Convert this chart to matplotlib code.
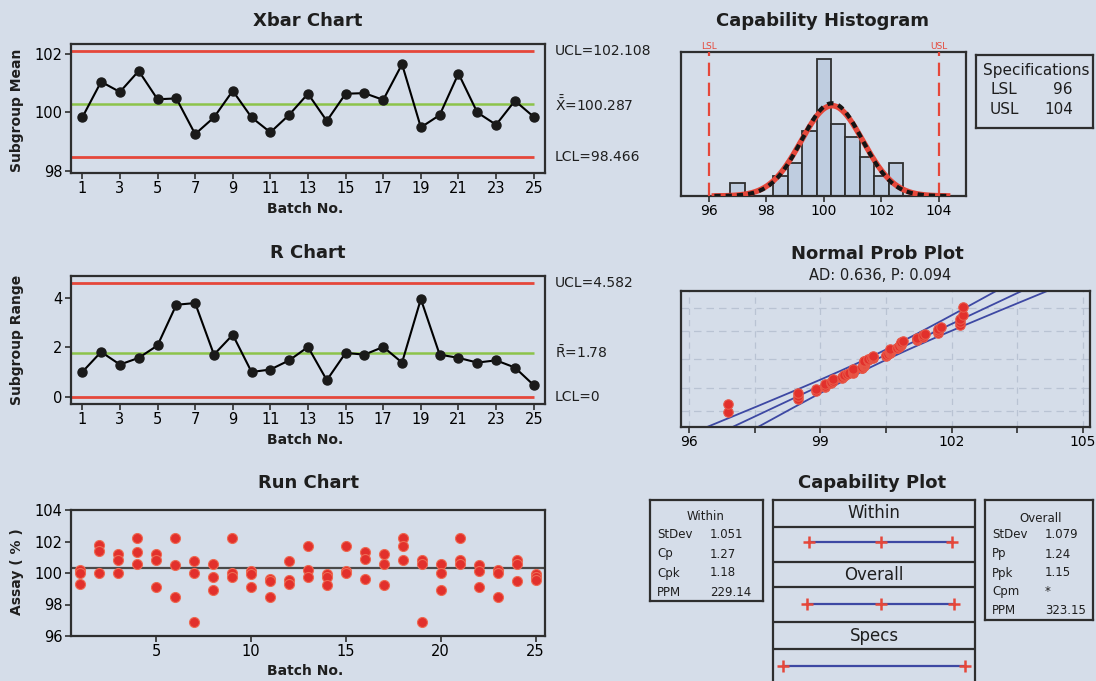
import numpy as np
import matplotlib.pyplot as plt
from statistics import NormalDist

# ---- data read from the sixpack ----
batches = np.arange(1, 26)
xbar_vals = [99.83, 101.05, 100.70, 101.42, 100.45, 100.48, 99.26, 99.83, 100.74, 99.83,
             99.32, 99.92, 100.64, 99.71, 100.64, 100.66, 100.43, 101.65, 99.49, 99.91,
             101.33, 100.00, 99.58, 100.40, 99.85]
range_vals = [1.00, 1.81, 1.30, 1.57, 2.07, 3.71, 3.78, 1.70, 2.50, 1.00,
              1.10, 1.47, 2.01, 0.67, 1.77, 1.70, 2.01, 1.38, 3.94, 1.70,
              1.57, 1.38, 1.47, 1.18, 0.47]
assay = [
    [100.2, 100.0, 99.3], [101.75, 101.4, 100.0], [101.2, 100.85, 100.0],
    [102.2, 101.35, 100.6], [101.2, 100.85, 99.1], [102.2, 100.5, 98.5],
    [100.75, 100.0, 96.9], [100.6, 99.75, 98.9], [102.2, 100.0, 99.75],
    [100.15, 99.95, 99.1], [99.65, 99.5, 98.5], [100.75, 99.55, 99.3],
    [101.7, 100.2, 99.75], [99.95, 99.75, 99.25], [101.7, 100.1, 100.0],
    [101.35, 100.9, 99.6], [101.2, 100.6, 99.25], [102.25, 101.7, 100.85],
    [100.8, 100.55, 96.9], [100.6, 100.0, 98.9], [102.25, 100.85, 100.6],
    [100.5, 100.1, 99.1], [100.2, 100.0, 98.5], [100.8, 100.6, 99.5],
    [99.95, 99.75, 99.55],
]
hist_centers = [97.0, 97.5, 98.0, 98.5, 99.0, 99.5, 100.0, 100.5, 101.0, 101.5, 102.0, 102.5]
hist_counts = [2, 0, 0, 3, 5, 10, 21, 11, 9, 6, 3, 5]

xbar_ucl, xbar_cl, xbar_lcl = 102.108, 100.287, 98.466
r_ucl, r_cl, r_lcl = 4.582, 1.78, 0.0
lsl, usl = 96, 104
mean_all = 100.287
sd_within, sd_overall = 1.051, 1.079
within_stats = [("StDev", "1.051"), ("Cp", "1.27"), ("Cpk", "1.18"), ("PPM", "229.14")]
overall_stats = [("StDev", "1.079"), ("Pp", "1.24"), ("Ppk", "1.15"), ("Cpm", "*"), ("PPM", "323.15")]

# ---- style ----
BG = '#d5dde9'
RED = '#e5473a'
GREEN = '#8cc34a'
DOT = '#e2302c'
BLUE = '#3d48a3'
EDGE = '#2e2e2e'
NARROW = ['DejaVu Sans Condensed', 'Liberation Sans Narrow', 'DejaVu Sans']

W, H = 1096, 681
fig = plt.figure(figsize=(W / 100, H / 100), dpi=100, facecolor=BG)
plt.rcParams['mathtext.fontset'] = 'dejavusans'


def px_axes(l, t, r, b):
    ax = fig.add_axes([l / W, 1 - b / H, (r - l) / W, (b - t) / H])
    ax.set_facecolor(BG)
    for s in ax.spines.values():
        s.set_color(EDGE)
        s.set_linewidth(1.6)
    ax.tick_params(direction='out', length=4, width=1.2, color=EDGE, labelsize=10, pad=2)
    return ax


def ftext(x, y, s, **kw):
    fig.text(x / W, 1 - y / H, s, ha=kw.pop('ha', 'center'), va=kw.pop('va', 'center'),
             color=kw.pop('color', '#1e1e1e'), **kw)


def control_chart(ax, vals, ucl, cl, lcl, labels):
    ax.hlines([ucl, lcl], 0.4, 25, color=RED, lw=2)
    ax.hlines(cl, 0.4, 25, color=GREEN, lw=1.8)
    ax.plot(batches, vals, color='black', lw=1.5, marker='o', ms=6.5, mfc='#1a1a1a', mec='#1a1a1a')
    ax.set_xlim(0.4, 25.6)
    ax.set_xticks(batches[::2])
    for lab in ax.get_xticklabels() + ax.get_yticklabels():
        lab.set_family(NARROW)
        lab.set_fontsize(10.5)
    for val, s in zip([ucl, cl, lcl], labels):
        ax.text(1.021, val, s, transform=ax.get_yaxis_transform(), ha='left', va='center',
                fontsize=10, color='#1e1e1e')


# Xbar chart
ax1 = px_axes(71, 44, 545, 173)
ax1.set_ylim(97.93, 102.34)
ax1.set_yticks([98, 100, 102])
control_chart(ax1, xbar_vals, xbar_ucl, xbar_cl, xbar_lcl,
              ['UCL=102.108', r'$\bar{\bar{\mathrm{X}}}$=100.287', 'LCL=98.466'])
ftext(308, 21, 'Xbar Chart', fontsize=13, fontweight='bold')
ftext(305, 209, 'Batch No.', fontsize=10, fontweight='bold')
ftext(17, 110, 'Subgroup Mean', fontsize=10, fontweight='bold', rotation=90)

# R chart
ax2 = px_axes(71, 276, 545, 404)
ax2.set_ylim(-0.29, 4.87)
ax2.set_yticks([0, 2, 4])
control_chart(ax2, range_vals, r_ucl, r_cl, r_lcl,
              ['UCL=4.582', r'$\bar{\mathrm{R}}$=1.78', 'LCL=0'])
ftext(308, 253, 'R Chart', fontsize=13, fontweight='bold')
ftext(305, 440, 'Batch No.', fontsize=10, fontweight='bold')
ftext(17, 340, 'Subgroup Range', fontsize=10, fontweight='bold', rotation=90)

# Run chart
ax3 = px_axes(71, 510, 545, 636)
run_x = np.repeat(batches, 3)
run_y = np.array(assay).ravel()
ax3.axhline(mean_all, color='#4a4a4a', lw=1.6)
ax3.plot(run_x, run_y, 'o', ms=7.2, mfc=DOT, mec='#ee6a52', mew=0.8)
ax3.set_xlim(0.5, 25.5)
ax3.set_ylim(96, 104)
ax3.set_xticks([5, 10, 15, 20, 25])
ax3.set_yticks([96, 98, 100, 102, 104])
for lab in ax3.get_xticklabels() + ax3.get_yticklabels():
    lab.set_family(NARROW)
    lab.set_fontsize(10.5)
ftext(308, 483, 'Run Chart', fontsize=13, fontweight='bold')
ftext(305, 671, 'Batch No.', fontsize=10, fontweight='bold')
ftext(17, 572, 'Assay ( % )', fontsize=10, fontweight='bold', rotation=90)

# Capability histogram
ax4 = px_axes(681, 52, 966, 196)
ax4.bar(hist_centers, hist_counts, width=0.5, color='#bfcde0', edgecolor=EDGE, lw=1.3, zorder=2)
xs = np.linspace(96.2, 104.3, 300)
scale = len(run_y) * 0.5
ax4.plot(xs, scale * np.array([NormalDist(mean_all, sd_overall).pdf(v) for v in xs]),
         color=RED, lw=4, zorder=3)
ax4.plot(xs, scale * np.array([NormalDist(mean_all, sd_within).pdf(v) for v in xs]),
         color='#151515', lw=3, ls=(0, (1.5, 1.2)), zorder=4)
for v, s in [(lsl, 'LSL'), (usl, 'USL')]:
    ax4.axvline(v, color=RED, lw=1.6, ls=(0, (6, 3)), zorder=5)
    ax4.text(v, 1.01, s, transform=ax4.get_xaxis_transform(), ha='center', va='bottom',
             fontsize=6.5, color=RED)
ax4.set_xlim(95.04, 104.94)
ax4.set_ylim(0, 22.1)
ax4.set_xticks([96, 98, 100, 102, 104])
ax4.set_yticks([])
ftext(822, 21, 'Capability Histogram', fontsize=13, fontweight='bold')

# specifications box
axs = px_axes(976, 55, 1093, 128)
axs.set_xticks([]); axs.set_yticks([])
ftext(1036, 70, 'Specifications', fontsize=11)
ftext(990, 90, 'LSL', fontsize=11, ha='left')
ftext(1073, 90, str(lsl), fontsize=11, ha='right')
ftext(990, 109, 'USL', fontsize=11, ha='left')
ftext(1073, 109, str(usl), fontsize=11, ha='right')

# Normal probability plot
ax5 = px_axes(681, 291, 1090, 427)
nd = NormalDist()
sorted_y = np.sort(run_y)
n = len(sorted_y)
zpos = np.array([nd.inv_cdf((i - 0.3) / (n + 0.4)) for i in range(1, n + 1)])
zz = np.linspace(-3.2, 3.2, 200)
fit = mean_all + zz * sd_overall
half = 1.96 * sd_overall * np.sqrt(1 / n + zz ** 2 / (2 * n))
for g in [96, 97.5, 99, 100.5, 102, 103.5, 105]:
    ax5.axvline(g, color='#b9c3d3', lw=0.9, ls=(0, (5, 4)), zorder=1)
for p in [0.01, 0.10, 0.50, 0.90, 0.99]:
    ax5.axhline(nd.inv_cdf(p), color='#b9c3d3', lw=0.9, ls=(0, (6, 4)), zorder=1)
for off in (-half, 0, half):
    ax5.plot(fit + off, zz, color=BLUE, lw=1.3, zorder=2)
ax5.plot(sorted_y, zpos, 'o', ms=6.8, mfc=DOT, mec='#e85848', mew=0.8, zorder=3)
ax5.set_xlim(95.82, 105.16)
ax5.set_ylim(-3.05, 3.07)
ax5.set_xticks([96, 99, 102, 105])
ax5.set_xticks([97.5, 100.5, 103.5], minor=True)
ax5.tick_params(which='minor', direction='out', length=4, width=1.2, color=EDGE)
ax5.set_yticks([])
ftext(877, 254, 'Normal Prob Plot', fontsize=13, fontweight='bold')
ftext(880, 275, 'AD: 0.636, P: 0.094', fontsize=10.5)

# Capability plot
ftext(872, 483, 'Capability Plot', fontsize=13, fontweight='bold')
ax6 = px_axes(773, 500, 975, 700)
ax6.set_xticks([]); ax6.set_yticks([])
ax6.set_xlim(95.55, 104.45)
ax6.set_ylim(200, 0)
for yy in [26.7, 61.7, 86.7, 121.7, 149.3]:
    ax6.axhline(yy, color=EDGE, lw=1.6)
rows = [('Within', 13.5, 41.7, [mean_all - 3 * sd_within, mean_all, mean_all + 3 * sd_within]),
        ('Overall', 74.5, 104.3, [mean_all - 3 * sd_overall, mean_all, mean_all + 3 * sd_overall]),
        ('Specs', 136, 166, [lsl, usl])]
for name, ty, ly, pts in rows:
    ax6.text(100, ty, name, ha='center', va='center', fontsize=12, color='#1e1e1e')
    ax6.plot([pts[0], pts[-1]], [ly, ly], color=BLUE, lw=1.6)
    ax6.plot(pts, [ly] * len(pts), '+', ms=8, mew=1.8, color=RED)

axw = px_axes(650, 500, 763, 601)
axw.set_xticks([]); axw.set_yticks([])
ftext(706, 517, 'Within', fontsize=8.5)
for i, (k, v) in enumerate(within_stats):
    ftext(657, 535 + 19 * i, k, fontsize=8.5, ha='left')
    ftext(710, 535 + 19 * i, v, fontsize=8.5, ha='left')

axo = px_axes(985, 500, 1093, 620)
axo.set_xticks([]); axo.set_yticks([])
ftext(1041, 518, 'Overall', fontsize=8.5)
for i, (k, v) in enumerate(overall_stats):
    ftext(992, 535 + 19 * i, k, fontsize=8.5, ha='left')
    ftext(1045, 535 + 19 * i, v, fontsize=8.5, ha='left')

fig.savefig('out.png', dpi=100, facecolor=BG)
